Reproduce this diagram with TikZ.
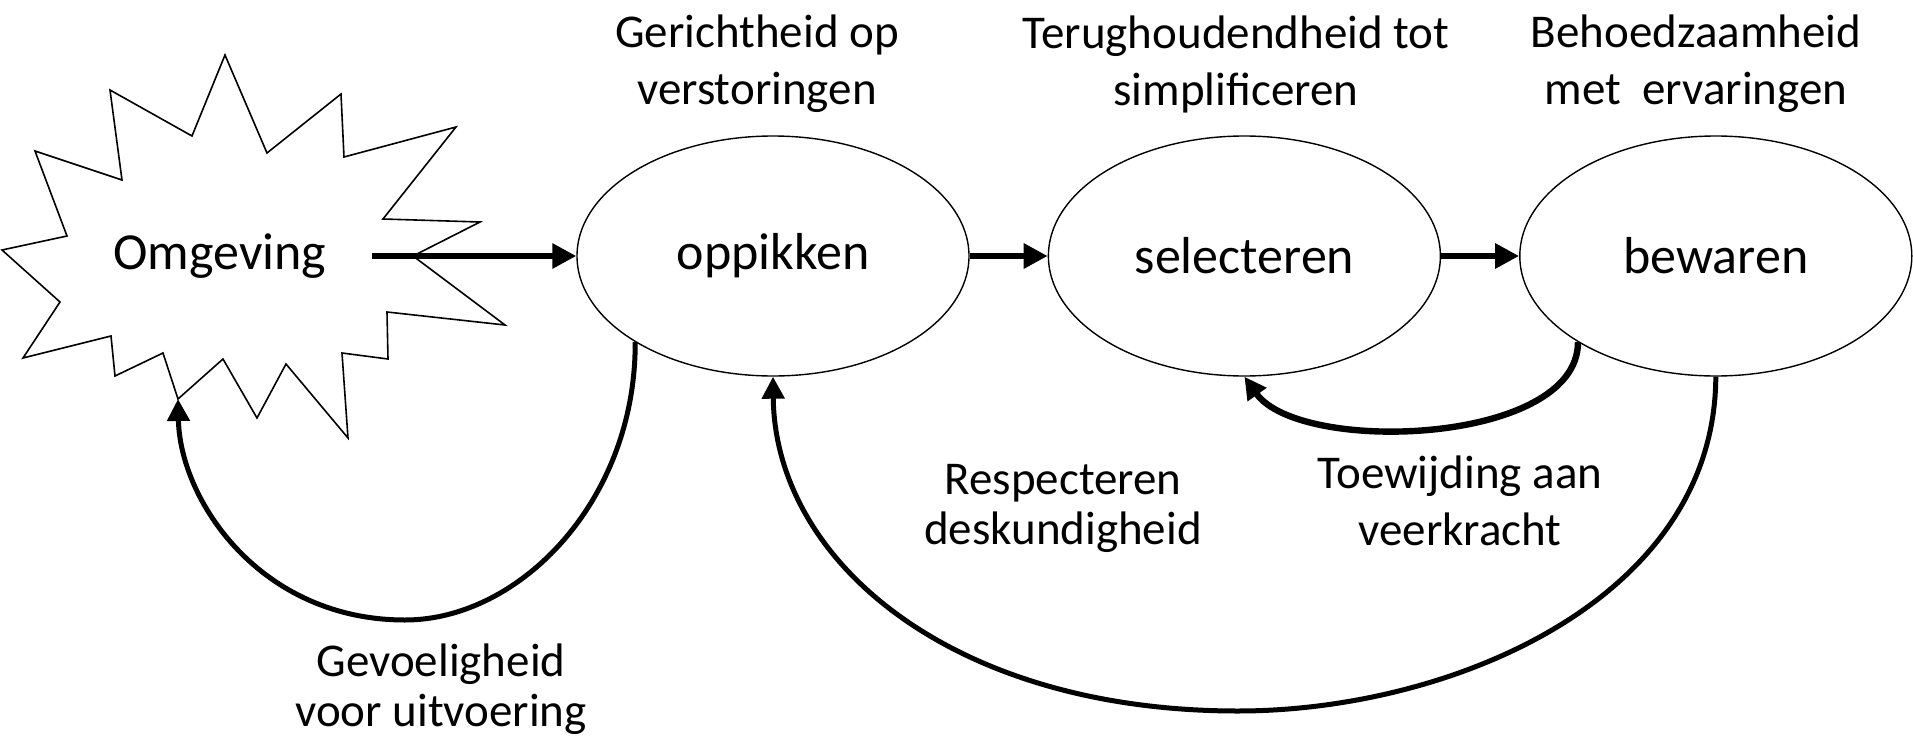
\documentclass[tikz,border=0pt]{standalone}
\usepackage{fontspec}
\setmainfont{Carlito}
\usetikzlibrary{arrows.meta,positioning,shapes.geometric}
\tikzset{node distance=39pt, % Gap between two phases
        phase/.style={ % The three ellipses
            ellipse,
            draw,
            line width=0.7pt,
            minimum width=196pt,
            minimum height=120pt,
            inner sep=0pt,
            font=\fontsize{26}{30}\selectfont},
        note/.style={ % Two-line labels round the phases, #1 = line spacing
            text width=280pt,
            align=flush center,
            inner sep=0pt,
            font=\fontsize{23.5}{#1}\selectfont},
        note/.default=28.5pt,
        flow/.style={ % Straight arrows between phases
            draw,
            line width=3.2pt,
            -{Triangle[length=12pt,width=12pt]}},
        feedback/.style={ % Curved arrows going back
            draw,
            line width=2.5pt,
            -{Triangle[length=11pt,width=11pt]}}
        }

\begin{document}
\begin{tikzpicture}[x=0.5pt, y=-0.5pt]
    \useasboundingbox (0,0) rectangle (1913,744);

    % starburst round Omgeving
    \foreach \px/\py [count=\i] in {225/55, 267/153, 341/94, 344/157, 456/127, 383/219, 480/222,
            413/256, 505/325, 387/312, 388/359, 342/353, 348/438, 286/364, 257/418, 223/359,
            178/399, 163/353, 115/376, 111/336, 23/358, 60/302, 2/250, 67/236, 35/151,
            122/180, 110/90, 192/136}
        \coordinate (b\i) at (\px,\py);
    \draw[line width=0.8pt, line join=miter] (b1) \foreach \i in {2,...,28} {-- (b\i)} -- cycle;

    \node[inner xsep=22.5pt, inner ysep=0pt, font=\fontsize{26}{30}\selectfont] (omgeving) at (220,256) {Omgeving};
    \node[phase] (oppikken) at (773,256) {oppikken};
    \node[phase] (selecteren) [right=of oppikken] {selecteren};
    \node[phase] (bewaren) [right=of selecteren] {bewaren};

    \node[note] (gericht) at (757,64) {Gerichtheid op\\verstoringen};
    \node[note] (terug) at (1236,64) {Terughoudendheid tot\\simplificeren};
    \node[note] (behoed) at (1696,64) {Behoedzaamheid\\met\ \ ervaringen};
    \node[note=25pt] (respect) at (1063,508) {Respecteren\\deskundigheid};
    \node[note] (toewijd) at (1460,501) {Toewijding aan\\veerkracht};
    \node[note=25pt] (gevoel) at (441,689) {Gevoeligheid\\voor uitvoering};

    \draw
        (omgeving) edge [flow] (oppikken)
        (oppikken) edge [flow] (selecteren)
        (selecteren) edge [flow] (bewaren);

    \draw[feedback] (oppikken.212) .. controls (636,500) and (520,620) .. (405,620)
        .. controls (260,620) and (180,500) .. (b17);
    \draw[feedback, line width=3.2pt] (bewaren.212) .. controls (1578,445) and (1300,455) .. (selecteren.south);
    \draw[feedback] (bewaren.south) .. controls (1715,600) and (1450,711) .. (1238,711)
        .. controls (950,711) and (775,560) .. (oppikken.south);
\end{tikzpicture}
\end{document}
